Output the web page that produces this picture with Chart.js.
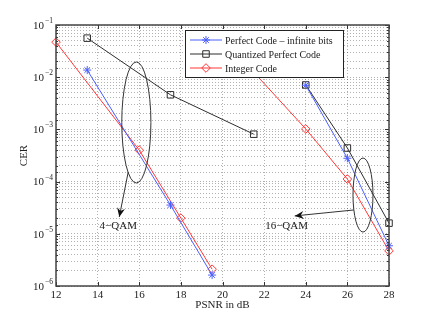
<!DOCTYPE html>
<html>
<head>
<meta charset="utf-8">
<script src="https://cdn.jsdelivr.net/npm/chart.js@4/dist/chart.umd.min.js"></script>
<style>
  html, body { margin: 0; padding: 0; background: #fff; }
</style>
</head>
<body>
<canvas id="c" width="429" height="322"></canvas>
<script>
// tick labels
const xTicks = [12, 14, 16, 18, 20, 22, 24, 26, 28];
const yDecades = [-6, -5, -4, -3, -2, -1];

// Perfect Code - infinite bits (4-QAM then 16-QAM)
const perfect4X = [13.5, 17.5, 19.5];
const perfect4CER = [0.0137, 3.55e-5, 1.62e-6];
const perfect16X = [24, 26, 28];
const perfect16CER = [7.0e-3, 2.8e-4, 5.9e-6];

// Quantized Perfect Code
const quant4X = [13.5, 17.5, 21.5];
const quant4CER = [0.056, 4.6e-3, 8.1e-4];
const quant16X = [24, 26, 28];
const quant16CER = [7.1e-3, 4.4e-4, 1.6e-5];

// Integer Code
const int4X = [12, 16, 18, 19.5];
const int4CER = [0.047, 4.0e-4, 2.0e-5, 2.1e-6];
const int16X = [20, 24, 26, 28];
const int16CER = [0.056, 1.02e-3, 1.12e-4, 4.7e-6];

const FONT = "'Liberation Serif', 'Times New Roman', serif";
const TXT = '#222';

function pts(xa, ya, xb, yb) {
  const a = xa.map((x, i) => ({ x: x, y: ya[i] }));
  const b = xb.map((x, i) => ({ x: x, y: yb[i] }));
  return a.concat([{ x: xa[xa.length - 1], y: null }], b);
}

const series = [
  { label: 'Perfect Code \u2013 infinite bits', data: pts(perfect4X, perfect4CER, perfect16X, perfect16CER),
    color: 'rgb(75,95,255)', pointStyle: 'star', radius: 4 },
  { label: 'Quantized Perfect Code', data: pts(quant4X, quant4CER, quant16X, quant16CER),
    color: 'rgb(45,45,45)', pointStyle: 'rect', radius: 4.6 },
  { label: 'Integer Code', data: pts(int4X, int4CER, int16X, int16CER),
    color: 'rgb(255,55,55)', pointStyle: 'rectRot', radius: 4.3 }
];

// ellipses / arrows / labels in data coordinates
const ellipses = [
  { cx: 15.86, top: 0.0196, bottom: 9.4e-5, rx: 0.70 },
  { cx: 26.75, top: 2.83e-4, bottom: 1.08e-5, rx: 0.48 }
];
const arrows = [
  { x1: 15.47, y1: 1.53e-4, x2: 15.04, y2: 2.1e-5 },
  { x1: 26.31, y1: 2.86e-5, x2: 23.47, y2: 2.2e-5 }
];
const notes = [
  { text: '4\u2212QAM', x: 14.99, y: 1.4e-5 },
  { text: '16\u2212QAM', x: 23.08, y: 1.4e-5 }
];

const decor = {
  id: 'decor',
  afterDraw(chart) {
    const ctx = chart.ctx;
    const a = chart.chartArea;
    const xs = chart.scales.x, ys = chart.scales.y;

    ctx.save();
    // inward ticks
    ctx.strokeStyle = '#333';
    ctx.lineWidth = 1;
    ctx.beginPath();
    xTicks.forEach(v => {
      const px = Math.round(xs.getPixelForValue(v)) + 0.5;
      ctx.moveTo(px, a.bottom); ctx.lineTo(px, a.bottom - 4);
      ctx.moveTo(px, a.top); ctx.lineTo(px, a.top + 4);
    });
    ys.ticks.forEach(t => {
      const py = Math.round(ys.getPixelForValue(t.value)) + 0.5;
      const major = Math.abs(Math.log10(t.value) - Math.round(Math.log10(t.value))) < 1e-6;
      const len = major ? 4 : 2;
      ctx.moveTo(a.left, py); ctx.lineTo(a.left + len, py);
      ctx.moveTo(a.right, py); ctx.lineTo(a.right - len, py);
    });
    ctx.stroke();

    // frame
    ctx.strokeStyle = '#444';
    ctx.lineWidth = 1.5;
    ctx.strokeRect(a.left, a.top, a.right - a.left, a.bottom - a.top);

    // y tick labels 10^n
    ctx.fillStyle = TXT;
    yDecades.forEach(n => {
      const py = ys.getPixelForValue(Math.pow(10, n));
      ctx.font = '11px ' + FONT;
      ctx.textAlign = 'right';
      ctx.textBaseline = 'middle';
      ctx.fillText('10', 44, py + 1);
      ctx.font = '7.5px ' + FONT;
      ctx.textAlign = 'left';
      ctx.fillText('\u2212' + Math.abs(n), 45, py - 4);
    });

    // ellipses
    ctx.strokeStyle = '#333';
    ctx.lineWidth = 1;
    ellipses.forEach(e => {
      const cx = xs.getPixelForValue(e.cx);
      const t = ys.getPixelForValue(e.top), b = ys.getPixelForValue(e.bottom);
      const rx = xs.getPixelForValue(e.cx + e.rx) - cx;
      ctx.beginPath();
      ctx.ellipse(cx, (t + b) / 2, rx, (b - t) / 2, 0, 0, Math.PI * 2);
      ctx.stroke();
    });

    // arrows
    arrows.forEach(ar => {
      const x1 = xs.getPixelForValue(ar.x1), y1 = ys.getPixelForValue(ar.y1);
      const x2 = xs.getPixelForValue(ar.x2), y2 = ys.getPixelForValue(ar.y2);
      const ang = Math.atan2(y2 - y1, x2 - x1);
      ctx.strokeStyle = '#333';
      ctx.beginPath();
      ctx.moveTo(x1, y1); ctx.lineTo(x2, y2);
      ctx.stroke();
      ctx.save();
      ctx.translate(x2, y2);
      ctx.rotate(ang);
      ctx.fillStyle = '#111';
      ctx.beginPath();
      ctx.moveTo(0, 0);
      ctx.lineTo(-9, -4);
      ctx.lineTo(-6, 0);
      ctx.lineTo(-9, 4);
      ctx.closePath();
      ctx.fill();
      ctx.restore();
    });

    // notes
    ctx.fillStyle = TXT;
    ctx.font = '11px ' + FONT;
    ctx.textAlign = 'center';
    ctx.textBaseline = 'middle';
    notes.forEach(n => {
      ctx.fillText(n.text, xs.getPixelForValue(n.x), ys.getPixelForValue(n.y));
    });

    // legend box
    const lx = 185, ly = 30, lw = 158, lh = 47;
    ctx.fillStyle = '#fff';
    ctx.fillRect(lx, ly, lw, lh);
    ctx.strokeStyle = '#222';
    ctx.lineWidth = 1;
    ctx.strokeRect(lx + 0.5, ly + 0.5, lw, lh);
    chart.data.datasets.forEach((ds, i) => {
      const y = ly + 10 + i * 14;
      ctx.strokeStyle = ds.borderColor;
      ctx.lineWidth = 1;
      ctx.beginPath();
      ctx.moveTo(lx + 5, y); ctx.lineTo(lx + 37, y);
      ctx.stroke();
      ctx.fillStyle = 'rgba(0,0,0,0)';
      Chart.helpers.drawPoint(ctx, { pointStyle: ds.pointStyle, radius: ds.pointRadius, rotation: 0, borderWidth: 1 }, lx + 21, y);
      ctx.fillStyle = TXT;
      ctx.font = '10px ' + FONT;
      ctx.textAlign = 'left';
      ctx.textBaseline = 'middle';
      ctx.fillText(ds.label, lx + 40, y + 1);
    });
    ctx.restore();
  }
};

new Chart(document.getElementById('c'), {
  type: 'line',
  data: {
    datasets: series.map(s => ({
      label: s.label,
      data: s.data,
      borderColor: s.color,
      borderWidth: 1,
      pointStyle: s.pointStyle,
      pointRadius: s.radius,
      pointBorderColor: s.color,
      pointBackgroundColor: 'rgba(0,0,0,0)',
      pointBorderWidth: 1,
      tension: 0,
      spanGaps: false,
      clip: false
    }))
  },
  options: {
    responsive: false,
    animation: false,
    devicePixelRatio: 1,
    layout: { padding: { top: 25, right: 40, left: 0, bottom: 0 } },
    plugins: { legend: { display: false }, tooltip: { enabled: false } },
    scales: {
      x: {
        type: 'linear', min: 12, max: 28,
        afterBuildTicks: s => { s.ticks = xTicks.map(v => ({ value: v })); },
        afterFit: s => { s.height = 36; },
        ticks: { color: TXT, font: { family: FONT, size: 11 }, padding: 3, maxRotation: 0 },
        grid: { color: 'rgba(0,0,0,0.3)', lineWidth: 1, drawTicks: false },
        border: { display: false, dash: [1, 2] },
        title: { display: true, text: 'PSNR in dB', color: TXT, font: { family: FONT, size: 11 }, padding: { top: 0, bottom: 10 } }
      },
      y: {
        type: 'logarithmic', min: 1e-6, max: 1e-1,
        afterFit: s => { s.width = 56; },
        ticks: { display: false },
        grid: { color: 'rgba(0,0,0,0.3)', lineWidth: 1, drawTicks: false },
        border: { display: false, dash: [1, 2] },
        title: { display: true, text: 'CER', color: TXT, font: { family: FONT, size: 11 }, padding: { top: 18, bottom: 0 } }
      }
    }
  },
  plugins: [decor]
});
</script>
</body>
</html>
